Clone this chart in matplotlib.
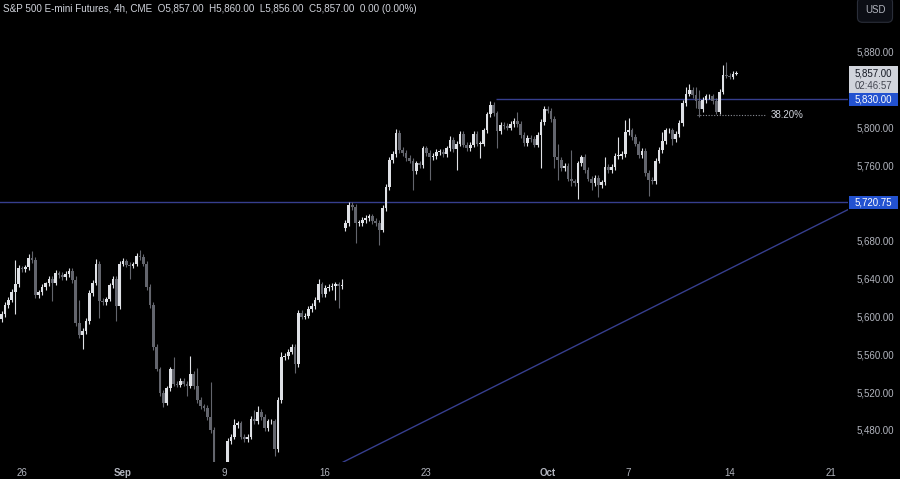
import numpy as np
import matplotlib.pyplot as plt
from matplotlib.patches import Rectangle
from matplotlib.transforms import blended_transform_factory

plt.rcParams['font.family'] = ['Liberation Sans', 'DejaVu Sans']

# 4h closes (bar 0 = first visible bar)
closes = [
    5603, 5612, 5618, 5626, 5634, 5651, 5650, 5652, 5662, 5660,
    5623, 5626, 5631, 5635, 5640, 5636, 5646, 5644, 5642, 5645,
    5648, 5639, 5593, 5580, 5585, 5595, 5625, 5636, 5656, 5617,
    5615, 5619, 5633, 5640, 5611, 5656, 5659, 5655, 5654, 5656,
    5664, 5663, 5656, 5631, 5612, 5568, 5545, 5519, 5509, 5524,
    5544, 5529, 5528, 5532, 5529, 5527, 5539, 5526, 5512, 5505,
    5503, 5494, 5480, 5432, 5428, 5418, 5440, 5468, 5473, 5485,
    5487, 5473, 5470, 5473, 5492, 5489, 5499, 5494, 5482, 5489,
    5489, 5460, 5512, 5557, 5558, 5563, 5568, 5550, 5604, 5600,
    5601, 5608, 5611, 5618, 5634, 5624, 5630, 5631, 5632, 5634,
    5632, 5633, 5699, 5718, 5716, 5699, 5699, 5702, 5704, 5706,
    5701, 5699, 5692, 5715, 5737, 5766, 5772, 5794, 5776, 5773,
    5768, 5765, 5754, 5762, 5760, 5778, 5773, 5769, 5770, 5774,
    5774, 5772, 5778, 5787, 5777, 5783, 5793, 5782, 5778, 5782,
    5793, 5783, 5783, 5797, 5814, 5824, 5815, 5796, 5803, 5802,
    5800, 5804, 5807, 5804, 5792, 5784, 5789, 5788, 5782, 5792,
    5806, 5820, 5818, 5809, 5769, 5766, 5757, 5759, 5746, 5743,
    5741, 5762, 5769, 5755, 5746, 5741, 5747, 5739, 5742, 5758,
    5755, 5758, 5770, 5770, 5772, 5795, 5797, 5790, 5783, 5771,
    5775, 5752, 5745, 5743, 5765, 5776, 5786, 5797, 5797, 5788,
    5793, 5805, 5826, 5836, 5840, 5834, 5828, 5820, 5829, 5833,
    5833, 5828, 5817, 5838, 5856, 5855, 5854, 5857, 5857,
]

# wick lengths beyond the body (points)
upper_wick = [
    3, 3, 3, 3, 26, 4, 3, 3, 4, 7,
    3, 2, 3, 2, 3, 3, 3, 2, 3, 3,
    3, 3, 4, 25, 3, 3, 3, 3, 5, 3,
    3, 2, 3, 3, 3, 3, 3, 2, 3, 2,
    3, 6, 3, 3, 3, 3, 3, 2, 3, 3,
    3, 13, 3, 3, 3, 3, 19, 3, 20, 3,
    3, 3, 37, 3, 3, 3, 3, 3, 3, 7,
    3, 3, 3, 3, 3, 9, 6, 3, 3, 3,
    3, 3, 3, 6, 3, 3, 3, 3, 3, 3,
    3, 3, 3, 3, 6, 3, 3, 3, 3, 3,
    3, 7, 3, 3, 3, 3, 3, 3, 3, 3,
    3, 3, 3, 3, 3, 3, 3, 4, 3, 3,
    3, 3, 3, 3, 3, 3, 3, 3, 3, 3,
    3, 3, 3, 4, 3, 3, 3, 3, 3, 3,
    3, 3, 3, 3, 3, 4, 3, 3, 3, 3,
    3, 3, 3, 9, 3, 3, 3, 3, 3, 3,
    3, 3, 3, 3, 3, 14, 3, 3, 3, 30,
    3, 3, 2, 3, 3, 3, 3, 3, 3, 11,
    3, 3, 3, 20, 3, 13, 13, 3, 3, 3,
    3, 3, 3, 3, 3, 3, 9, 3, 3, 3,
    3, 3, 3, 7, 6, 3, 9, 12, 3, 3,
    3, 3, 3, 3, 10, 13, 3, 3, 3,
]
lower_wick = [
    3, 3, 3, 3, 23, 3, 3, 3, 3, 3,
    3, 3, 3, 3, 3, 20, 3, 3, 3, 3,
    3, 3, 3, 3, 14, 3, 3, 3, 3, 19,
    3, 3, 3, 3, 16, 3, 3, 3, 14, 3,
    3, 3, 3, 3, 3, 3, 3, 3, 5, 3,
    3, 3, 3, 3, 3, 11, 3, 3, 3, 3,
    3, 3, 3, 12, 5, 5, 5, 10, 3, 3,
    3, 3, 3, 3, 3, 3, 3, 3, 3, 3,
    3, 8, 3, 3, 3, 3, 3, 10, 3, 3,
    3, 3, 3, 3, 3, 3, 3, 3, 3, 14,
    23, 3, 3, 3, 3, 21, 3, 3, 3, 3,
    3, 3, 16, 3, 3, 3, 3, 3, 3, 3,
    3, 3, 20, 3, 3, 3, 3, 24, 3, 3,
    3, 3, 3, 3, 3, 22, 3, 3, 3, 3,
    3, 3, 15, 3, 3, 3, 3, 18, 3, 3,
    3, 3, 3, 3, 3, 3, 3, 3, 3, 3,
    35, 3, 3, 3, 12, 21, 3, 3, 3, 5,
    3, 17, 3, 3, 3, 7, 3, 12, 3, 3,
    3, 3, 3, 3, 3, 3, 3, 3, 3, 3,
    3, 3, 17, 3, 3, 3, 3, 3, 3, 6,
    3, 3, 3, 3, 3, 3, 7, 9, 3, 3,
    3, 3, 3, 3, 3, 3, 3, 3, 1,
]
first_open = 5597
gap_opens = {102: 5694}   # contract roll gap

date_ticks = [6, 36, 66, 96, 126, 162, 186, 216, 246]
date_labels = ['26', 'Sep', '9', '16', '23', 'Oct', '7', '14', '21']
price_ticks = [5480, 5520, 5560, 5600, 5640, 5680, 5760, 5800, 5880]

resistance = 5830.0
resistance_from = 146.8
support = 5720.75
fib_level = 5813.3
fib_span = [206.3, 226.5]
trend_x = [101.3, 251.0]
trend_y = [5446.0, 5713.0]

last_price = 5857.0
countdown = '02:46:57'
header = ('S&P 500 E-mini Futures, 4h, CME  O5,857.00  H5,860.00  '
          'L5,856.00  C5,857.00  0.00 (0.00%)')

BG = '#000000'
UP = '#dfe1e6'
DOWN = '#63656d'
LINE = '#363e8e'
TXT = '#b2b5be'
BLUE = '#2352d0'

c = np.array(closes, float)
o = np.r_[first_open, c[:-1]]
for k, v in gap_opens.items():
    o[k] = v
hi = np.maximum(o, c) + np.array(upper_wick)
lo = np.minimum(o, c) - np.array(lower_wick)
x = np.arange(len(c))
cols = np.where(c >= o, UP, DOWN)

fig = plt.figure(figsize=(9, 4.79), dpi=100, facecolor=BG)
ax = fig.add_axes([0, 17 / 479, 848 / 900, 462 / 479])
ax.set_facecolor(BG)

ax.vlines(x, lo, hi, colors=cols, linewidth=0.8, zorder=3)
ax.bar(x, np.maximum(np.abs(c - o), 0.8), bottom=np.minimum(o, c),
       width=0.8, color=cols, linewidth=0, zorder=4)

# drawings
ax.hlines(resistance, resistance_from, 300, colors=LINE, linewidth=1.0, zorder=2)
ax.axhline(support, color=LINE, linewidth=1.0, zorder=2)
ax.plot(trend_x, trend_y, color=LINE, linewidth=1.0, zorder=2)
ax.hlines(fib_level, fib_span[0], fib_span[1], colors='#8a8d96',
          linestyles=(0, (1, 1.5)), linewidth=0.8, zorder=2)
ax.text(fib_span[1] + 1.8, fib_level, '38.20%', color='#d1d4dc',
        fontsize=7, va='center', ha='left')

ax.set_xlim(-0.5, 251.1)
ax.set_ylim(5446.1, 5935.0)

ax.set_xticks(date_ticks)
ax.set_xticklabels(date_labels)
for t in ax.get_xticklabels():
    if t.get_text() in ('Sep', 'Oct'):
        t.set_fontweight('bold')
ax.yaxis.tick_right()
ax.set_yticks(price_ticks)
ax.set_yticklabels([f'{p:,.2f}' for p in price_ticks])
ax.tick_params(axis='x', length=0, pad=4, labelsize=7, labelcolor=TXT)
ax.tick_params(axis='y', length=0, pad=6.5, labelsize=7, labelcolor=TXT)
for s in ax.spines.values():
    s.set_visible(False)

# price scale labels
tr = blended_transform_factory(ax.transAxes, ax.transData)
bx, bw = 1.0012, 0.0578
ax.add_patch(Rectangle((bx, 5836.6), bw, 28.6, transform=tr, clip_on=False,
                       facecolor='#d1d4dc', edgecolor='none', zorder=5))
ax.text(bx + bw / 2, last_price, f'{last_price:,.2f}', transform=tr,
        ha='center', va='center', fontsize=7, color='#131722', zorder=6)
ax.text(bx + bw / 2, last_price - 13.5, countdown, transform=tr,
        ha='center', va='center', fontsize=7, color='#434651', zorder=6)
for lvl in (resistance, support):
    ax.add_patch(Rectangle((bx, lvl - 6.8), bw, 13.6, transform=tr,
                           clip_on=False, facecolor=BLUE, edgecolor='none',
                           zorder=5))
    ax.text(bx + bw / 2, lvl, f'{lvl:,.2f}', transform=tr, ha='center',
            va='center', fontsize=7, color='white', zorder=6)

fig.text(3 / 900, 1 - 9 / 479, header, color='#d1d4dc', fontsize=7.1,
         va='center', ha='left')
fig.text(875 / 900, 1 - 10 / 479, 'USD', color=TXT, fontsize=7,
         va='center', ha='center',
         bbox=dict(boxstyle='round,pad=0.75,rounding_size=0.5',
                   facecolor='#0c0e15', edgecolor='#2a2e39', linewidth=0.8))

fig.savefig('out.png', dpi=100, facecolor=BG)
